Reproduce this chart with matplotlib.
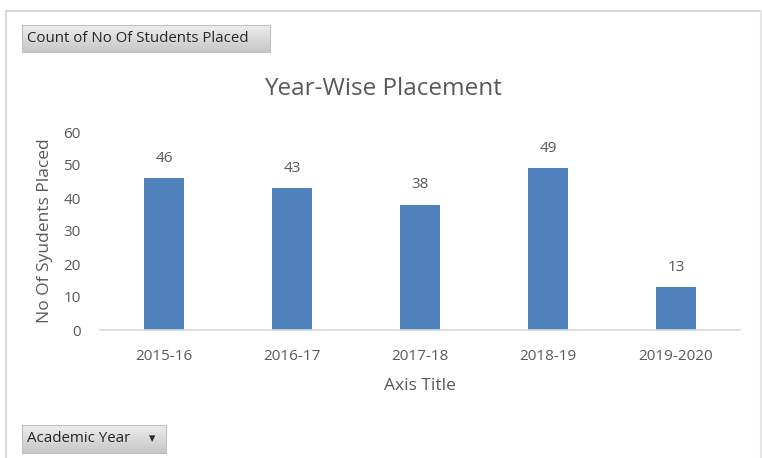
import matplotlib.pyplot as plt
import numpy as np

# data
years = ['2015-16', '2016-17', '2017-18', '2018-19', '2019-2020']
placed = [46, 43, 38, 49, 13]

W, H = 762, 458
TXT = '#595959'
BAR = '#4F81BD'

plt.rcParams['font.family'] = ['Open Sans', 'DejaVu Sans']

fig = plt.figure(figsize=(W / 100, H / 100), dpi=100)

def fx(px):
    return px / W

def fy(py):
    return 1 - py / H

# outer chart border
fig.add_artist(plt.Line2D([fx(6), fx(761)], [fy(11), fy(11)], color='#d9d9d9', lw=1.5))
fig.add_artist(plt.Line2D([fx(6), fx(6)], [fy(11), 0], color='#d9d9d9', lw=1.5))
fig.add_artist(plt.Line2D([fx(761), fx(761)], [fy(11), 0], color='#e6e6e6', lw=1.5))

ax = fig.add_axes([fx(100), fy(330), fx(740) - fx(100), fy(132) - fy(330)])
x = np.arange(len(years))
bars = ax.bar(x, placed, width=0.305, color=BAR)
ax.set_xlim(-0.5, len(years) - 0.5)
ax.set_ylim(0, 60)
ax.set_yticks(range(0, 61, 10))
ax.set_xticks(x)
ax.set_xticklabels(years)
ax.tick_params(colors=TXT, labelsize=11, length=0)
ax.tick_params(axis='y', pad=14)
ax.tick_params(axis='x', pad=14)
for s in ['top', 'right', 'left']:
    ax.spines[s].set_visible(False)
ax.spines['bottom'].set_color('#d9d9d9')
ax.spines['bottom'].set_linewidth(1.2)

for b, v in zip(bars, placed):
    ax.annotate(str(v), (b.get_x() + b.get_width() / 2, v), xytext=(0, 9),
                textcoords='offset points', ha='center', va='bottom',
                color=TXT, fontsize=11)

ax.set_xlabel('Axis Title', color=TXT, fontsize=12.5, labelpad=10)
ax.set_ylabel('No Of Syudents Placed', color=TXT, fontsize=12.5, labelpad=7)

fig.text(fx(383), fy(89), 'Year-Wise Placement', ha='center', va='center',
         color=TXT, fontsize=17.5)

# pivot field buttons
def button(x0, y0, x1, y1, label, arrow=False):
    bax = fig.add_axes([fx(x0), fy(y1), fx(x1) - fx(x0), fy(y0) - fy(y1)])
    grad = np.linspace(0.93, 0.78, 50).reshape(-1, 1)
    bax.imshow(grad, cmap='gray', vmin=0, vmax=1, aspect='auto',
               extent=[0, 1, 0, 1])
    bax.set_xlim(0, 1)
    bax.set_ylim(0, 1)
    bax.set_xticks([])
    bax.set_yticks([])
    for s in bax.spines.values():
        s.set_color('#c0c0c0')
    bax.text(fx(27), fy((y0 + y1) / 2), label, ha='left', va='center',
             color='#262626', fontsize=10.8, transform=fig.transFigure)
    if arrow:
        bax.text(fx(152), fy((y0 + y1) / 2), '\u25be', ha='center', va='center',
                 color='#262626', fontsize=9, transform=fig.transFigure,
                 family='DejaVu Sans')

button(22, 25, 270, 52, 'Count of No Of Students Placed')
button(22, 425, 166, 453, 'Academic Year', arrow=True)

fig.savefig('out.png', dpi=100)
